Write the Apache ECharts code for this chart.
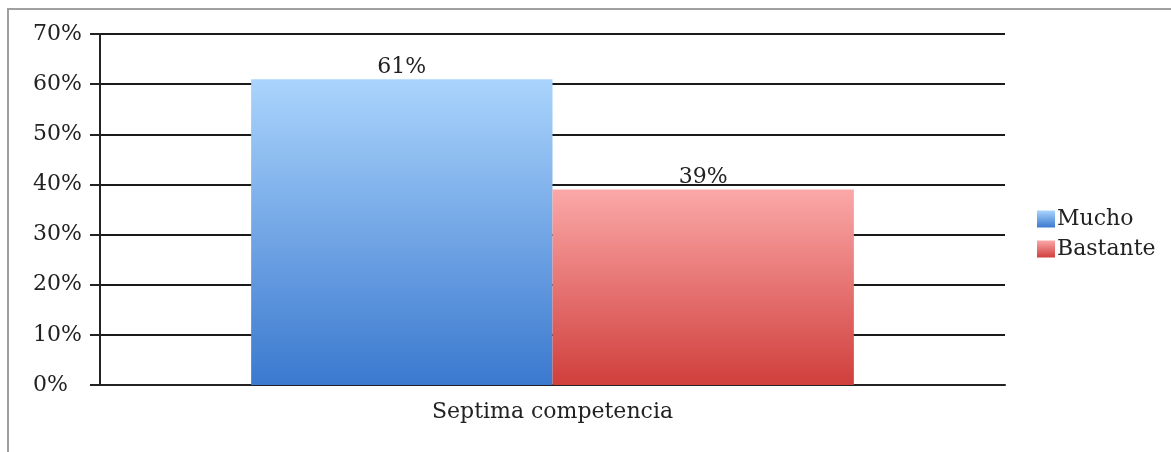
<!DOCTYPE html>
<html><head><meta charset="utf-8">
<script src="https://cdn.jsdelivr.net/npm/echarts@6/dist/echarts.min.js"></script>
<style>html,body{margin:0;padding:0;background:#fff}#c{width:1171px;height:452px}</style>
</head><body><div id="c"></div>
<script>
var categories = ['Septima competencia'];
var seriesNames = ['Mucho', 'Bastante'];
var mucho = [0.61];
var bastante = [0.39];
var yTicks = [0, 0.1, 0.2, 0.3, 0.4, 0.5, 0.6, 0.7];

var FONT = 'DejaVu Serif';
var chart = echarts.init(document.getElementById('c'));
function grad(top, bottom) {
  return new echarts.graphic.LinearGradient(0, 0, 0, 1, [{offset: 0, color: top}, {offset: 1, color: bottom}]);
}
function pct(v) { return Math.round(v * 100) + '%'; }
chart.setOption({
  animation: false,
  textStyle: {fontFamily: FONT},
  grid: {left: 100, right: 166, top: 34, bottom: 67},
  legend: {
    orient: 'vertical', left: 1032, top: 203, itemWidth: 18, itemHeight: 17, itemGap: 8, icon: 'rect',
    textStyle: {fontFamily: FONT, fontSize: 22, color: '#222', padding: [0, 0, 0, -3]},
    data: [{name: seriesNames[0], itemStyle: {color: grad('#aad4fc', '#3b79cf')}},
           {name: seriesNames[1], itemStyle: {color: grad('#fba8a8', '#d03f3c')}}]
  },
  xAxis: {
    type: 'category', data: categories,
    axisLine: {lineStyle: {color: '#222', width: 2}},
    axisTick: {length: 11, lineStyle: {color: '#222', width: 2}},
    axisLabel: {fontFamily: FONT, fontSize: 22, color: '#222', margin: 16}
  },
  yAxis: {
    type: 'value', min: 0, max: 0.7, interval: 0.1,
    axisLine: {show: true, lineStyle: {color: '#222', width: 2}},
    axisTick: {show: true, length: 10, lineStyle: {color: '#222', width: 2}},
    splitLine: {lineStyle: {color: '#1a1a1a', width: 2}},
    axisLabel: {fontFamily: FONT, fontSize: 22, color: '#222', margin: 67, align: 'left',
      formatter: function (v) { return pct(v); }}
  },
  graphic: [
    {type: 'polyline', shape: {points: [[8, 452], [8, 9], [1171, 9]]}, style: {stroke: '#a0a0a0', lineWidth: 2, fill: null}, silent: true}
  ],
  series: [
    {name: seriesNames[0], type: 'bar', data: mucho, barGap: '0%', barCategoryGap: '33.4%',
     itemStyle: {color: grad('#aad4fc', '#3b79cf')},
     label: {show: true, position: 'top', distance: 1, fontFamily: FONT, fontSize: 22, color: '#222',
       formatter: function (p) { return pct(p.value); }}},
    {name: seriesNames[1], type: 'bar', data: bastante, barGap: '0%', barCategoryGap: '33.4%',
     itemStyle: {color: grad('#fba8a8', '#d03f3c')},
     label: {show: true, position: 'top', distance: 1, fontFamily: FONT, fontSize: 22, color: '#222',
       formatter: function (p) { return pct(p.value); }}}
  ]
});
</script></body></html>
